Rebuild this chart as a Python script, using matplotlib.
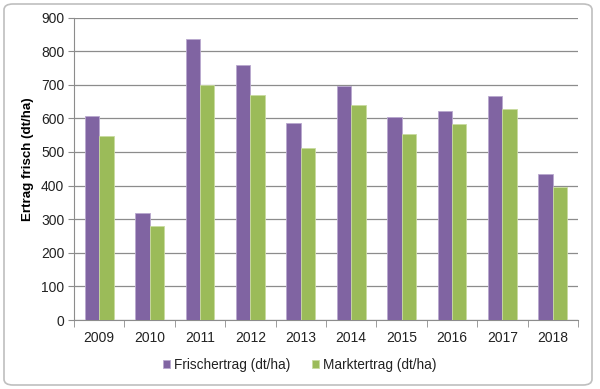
import matplotlib
matplotlib.use("Agg")
import matplotlib.pyplot as plt
import numpy as np
from matplotlib.patches import FancyBboxPatch

years = ["2009", "2010", "2011", "2012", "2013", "2014", "2015", "2016", "2017", "2018"]
frischertrag = [608, 317, 836, 758, 585, 696, 605, 621, 667, 434]
marktertrag = [546, 280, 700, 669, 512, 639, 553, 582, 627, 396]
series_names = ["Frischertrag (dt/ha)", "Marktertrag (dt/ha)"]
ylabel = "Ertrag frisch (dt/ha)"

purple = "#8064A2"
green = "#9BBB59"

plt.rcParams['font.family'] = ['Liberation Sans', 'DejaVu Sans']

fig = plt.figure(figsize=(6.0, 3.89), dpi=100)
fig.patch.set_facecolor("white")

# chart frame
frame = FancyBboxPatch((4/600, 4/389), 588/600, 381/389,
                       boxstyle="round,pad=0,rounding_size=0.015",
                       transform=fig.transFigure, facecolor="white",
                       edgecolor="#BFBFBF", linewidth=1.2, zorder=-10)
fig.patches.append(frame)

ax = fig.add_axes([74/600, 1-320/389, (578-74)/600, (320-17.5)/389])
ax.set_facecolor("none")
ax.set_zorder(5)

x = np.arange(len(years))
w = 0.285
ax.bar(x - w/2, frischertrag, width=w, color=purple, edgecolor="#B9A8CE", linewidth=0.6, zorder=3, label=series_names[0])
ax.bar(x + w/2, marktertrag, width=w, color=green, edgecolor="#C9DBA0", linewidth=0.6, zorder=3, label=series_names[1])

ax.set_xlim(-0.5, len(years) - 0.5)
ax.set_ylim(0, 900)
ax.set_yticks(np.arange(0, 901, 100))
ax.yaxis.grid(True, color="#8C8C8C", linewidth=0.9, zorder=1)
ax.set_axisbelow(True)

for s in ["top", "right"]:
    ax.spines[s].set_visible(False)
ax.spines["left"].set_color("#8C8C8C")
ax.spines["bottom"].set_color("#8C8C8C")

ax.set_xticks(x)
ax.set_xticklabels(years)
ax.set_xticks(np.arange(-0.5, len(years), 1), minor=True)
ax.tick_params(axis="x", which="major", length=0, pad=8, labelsize=10, colors="#222222")
ax.tick_params(axis="x", which="minor", length=5, color="#8C8C8C", direction="out")
ax.tick_params(axis="y", length=4, color="#8C8C8C", labelsize=10, labelcolor="#222222", pad=3)

ax.set_ylabel(ylabel, fontsize=9.6, fontweight="bold")
ax.yaxis.set_label_coords(-0.08, 0.53)

leg = fig.legend(loc="center", bbox_to_anchor=(0.5, 1-365/389), ncol=2, frameon=False,
                 fontsize=9.8, handlelength=0.5, handleheight=0.5, handletextpad=0.3,
                 columnspacing=1.6)
for t in leg.get_texts():
    t.set_color("#222222")

fig.savefig("out.png", dpi=100, facecolor="white")
